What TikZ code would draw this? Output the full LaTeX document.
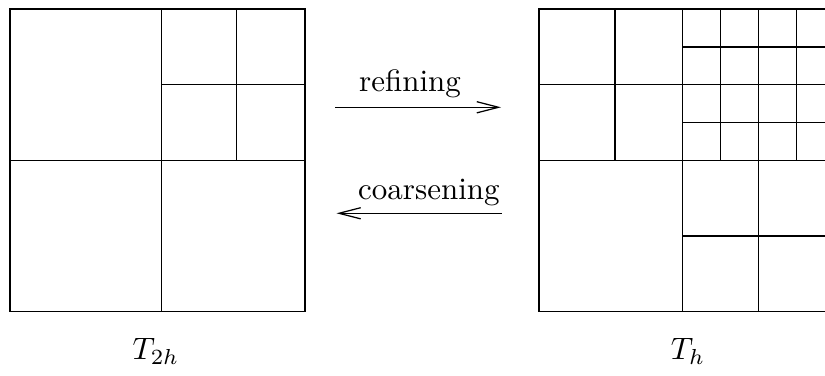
\documentclass[tikz,border=0pt]{standalone}
\usetikzlibrary{arrows.meta}
\begin{document}
\begin{tikzpicture}[x=0.3226pt,y=-0.3226pt,
  gridline/.style={draw=black,line width=0.4pt},
  lbl/.style={inner sep=0pt,anchor=base west,font=\normalsize},
  meshname/.style={inner sep=0pt,anchor=base,font=\normalsize},
  conn/.style={line width=0.4pt,-{Straight Barb[length=7pt,width=3.6pt]}}]
\useasboundingbox (0,0) rectangle (825,376);
% ---------- left mesh T_2h ----------
\draw[gridline] (10,9) rectangle (305,311.7);
\draw[gridline] (10,160.7) -- (305,160.7);
\draw[gridline] (161.3,9) -- (161.3,311.7);
\draw[gridline] (161.3,84.7) -- (305,84.7);
\draw[gridline] (236.7,9) -- (236.7,160.7);
% ---------- right mesh T_h ----------
\begin{scope}
\clip (0,0) rectangle (825,376);
\draw[gridline] (539,9) rectangle (841,311.7);
\draw[gridline] (539,160.3) -- (841,160.3);
\draw[gridline] (539,84.3) -- (841,84.3);
\draw[gridline] (682.7,9) -- (682.7,311.7);
\draw[gridline] (615,9) -- (615,160.3);
\draw[gridline] (758.7,9) -- (758.7,311.7);
\draw[gridline] (720.7,9) -- (720.7,160.3);
\draw[gridline] (796.3,9) -- (796.3,160.3);
\draw[gridline] (682.7,47) -- (841,47);
\draw[gridline] (682.7,122.7) -- (841,122.7);
\draw[gridline] (682.7,236) -- (841,236);
\end{scope}
% ---------- arrows ----------
\coordinate (r1) at (335,107.3);
\coordinate (r2) at (501,107.3);
\coordinate (c1) at (501.7,213.3);
\coordinate (c2) at (336.5,213.3);
\draw[conn] (r1) -- (r2);
\draw[conn] (c1) -- (c2);
\node[lbl] (refine) at (358.5,92) {refining};
\node[lbl] (coarsen) at (357.5,199.3) {coarsening};
% ---------- names ----------
\node[meshname] (t2h) at (156,360) {$T_{2h}$};
\node[meshname] (th) at (688,360) {$T_h$};
\end{tikzpicture}
\end{document}
